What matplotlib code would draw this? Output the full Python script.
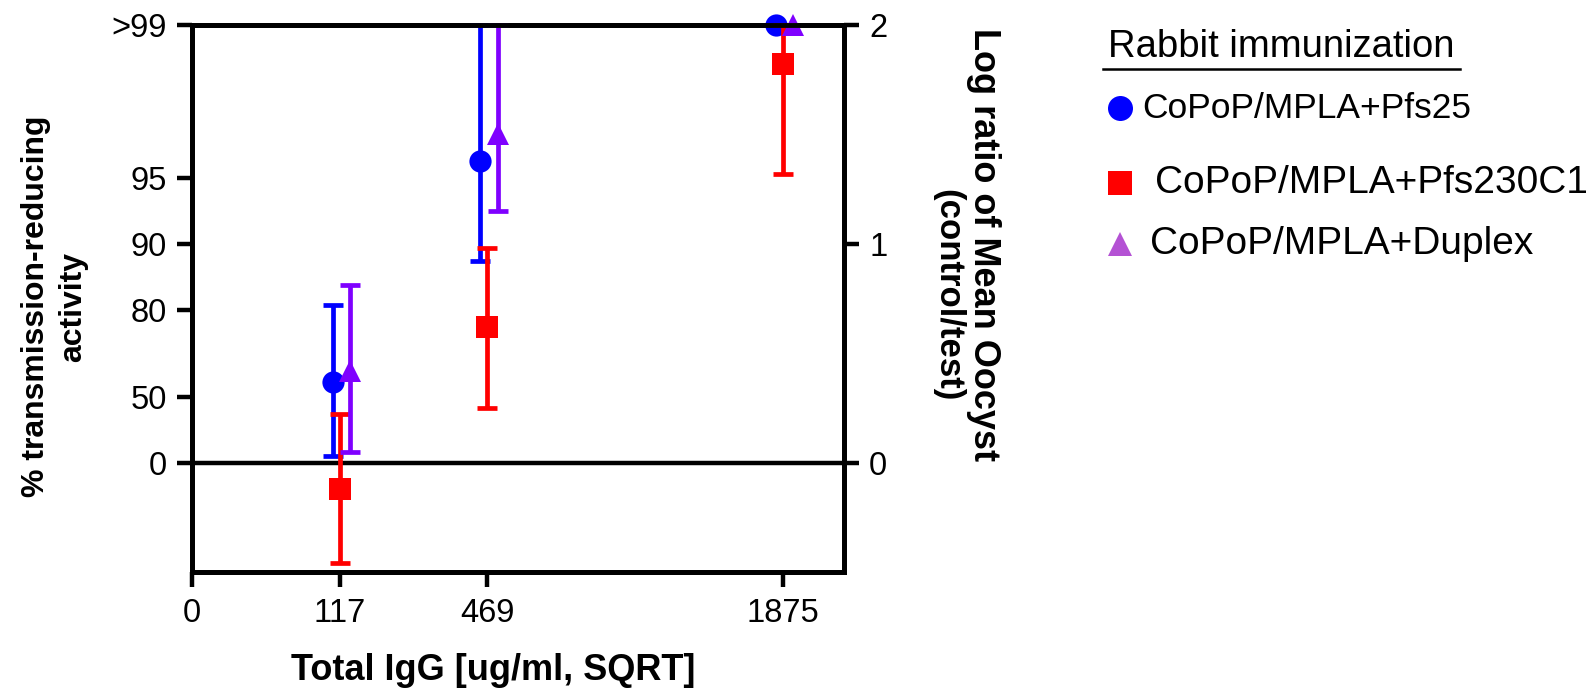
import numpy as np
import matplotlib
matplotlib.use("Agg")
import matplotlib.pyplot as plt
from matplotlib.lines import Line2D
from matplotlib.transforms import offset_copy

plt.rcParams['font.family'] = ['Liberation Sans', 'DejaVu Sans']

# ---------------- data ----------------
igg_doses = [117, 469, 1875]          # Total IgG (ug/ml), plotted on SQRT axis
x_tick_values = [0, 117, 469, 1875]
x_tick_labels = ['0', '117', '469', '1875']

series_names = ['CoPoP/MPLA+Pfs25', 'CoPoP/MPLA+Pfs230C1', 'CoPoP/MPLA+Duplex']

# log ratio of mean oocyst (control/test); None = no error bar shown
pfs25_mean = [0.37, 1.38, 2.00]
pfs25_low = [0.03, 0.92, None]
pfs25_high = [0.72, 2.00, None]

pfs230_mean = [-0.12, 0.62, 1.82]
pfs230_low = [-0.46, 0.25, 1.32]
pfs230_high = [0.22, 0.98, 2.00]

duplex_mean = [0.42, 1.50, 2.00]
duplex_low = [0.05, 1.15, None]
duplex_high = [0.81, 2.00, None]

tra_tick_percent = [0, 50, 80, 90, 95, 99]
tra_tick_labels = ['0', '50', '80', '90', '95', '>99']
log_ratio_ticks = [0, 1, 2]

# ---------------- style ----------------
colors = ['#0000FF', '#FF0000', '#7F00FF']
legend_colors = ['#0000FF', '#FF0000', '#B452D4']
markers = ['o', 's', '^']
dodge_pts = [-5.0, 0.0, 7.5]

fig = plt.figure(figsize=(15.94, 6.94), dpi=100)
ax = fig.add_axes([192/1594, 1-572/694, (844-192)/1594, (572-25)/694])

ax.set_xscale('function', functions=(lambda v: np.sqrt(np.clip(v, 0, None)), lambda v: np.square(v)))
ax.set_xlim(0, 47.8**2)
ax.set_ylim(-0.5, 2.0)

def to_arr(v):
    return np.array([np.nan if x is None else x for x in v], dtype=float)

all_series = [
    (pfs25_mean, pfs25_low, pfs25_high),
    (pfs230_mean, pfs230_low, pfs230_high),
    (duplex_mean, duplex_low, duplex_high),
]
for i, (m, lo, hi) in enumerate(all_series):
    m = to_arr(m); lo = to_arr(lo); hi = to_arr(hi)
    trans = offset_copy(ax.transData, fig=fig, x=dodge_pts[i], y=0, units='points')
    cont = ax.errorbar(igg_doses, m, yerr=[m - lo, hi - m], fmt=markers[i], color=colors[i],
                       ms=16, elinewidth=3.4, capsize=7.5, capthick=3.4,
                       clip_on=False, zorder=3 + i)
    data_line, caplines, barcols = cont.lines
    data_line.set_transform(trans)
    data_line.set_markeredgewidth(0)
    for c in caplines:
        c.set_transform(trans)
        c.set_clip_on(False)
    for b in barcols:
        b.set_transform(trans)
        b.set_clip_on(False)

ax.axhline(0, color='black', lw=3.2, zorder=2)

for s in ax.spines.values():
    s.set_linewidth(3.5)

ax.set_xticks(x_tick_values)
ax.set_xticklabels(x_tick_labels)
tra_pos = [-np.log10(1 - p / 100.0) for p in tra_tick_percent]
ax.set_yticks(tra_pos)
ax.set_yticklabels(tra_tick_labels)
ax.tick_params(axis='both', which='major', length=11, width=3.2, labelsize=23.5, pad=7)
ax.tick_params(axis='x', pad=8)
ax.minorticks_off()

ax2 = ax.twinx()
ax2.set_ylim(-0.5, 2.0)
ax2.set_yticks(log_ratio_ticks)
ax2.set_yticklabels([str(t) for t in log_ratio_ticks])
ax2.tick_params(axis='y', length=11, width=3.2, labelsize=23.5, pad=7)
for s in ax2.spines.values():
    s.set_linewidth(3.5)

ax.set_xlabel('Total IgG [ug/ml, SQRT]', fontsize=26, fontweight='bold')
ax.xaxis.label.set_va('center')
ax.xaxis.set_label_coords((493-192)/652, -(671-572)/547)
ax.set_ylabel('% transmission-reducing\nactivity', fontsize=23, fontweight='bold', linespacing=1.3)
ax.yaxis.set_label_coords(-(192-88)/652, 0.485)

fig.text(984/1594, 1-245/694, 'Log ratio of Mean Oocyst', rotation=270,
         ha='center', va='center', fontsize=26, fontweight='bold')
fig.text(948/1594, 1-295/694, '(control/test)', rotation=270,
         ha='center', va='center', fontsize=25, fontweight='bold')

# ---------------- legend ----------------
fig.text(1108/1594, 1-47/694, 'Rabbit immunization', fontsize=27.5, ha='left', va='center')
fig.add_artist(Line2D([1103/1594, 1460/1594], [1-69/694, 1-69/694], color='black', lw=1.8,
                      transform=fig.transFigure))
legend_y = [108, 183, 244]
legend_text_x = [1142, 1155, 1150]
legend_sizes = [25.5, 28, 28]
for i in range(3):
    fig.add_artist(Line2D([1120/1594], [1-legend_y[i]/694], marker=markers[i], color=legend_colors[i],
                          ms=18 if i == 0 else 17, mew=0, linestyle='none', transform=fig.transFigure))
    fig.text(legend_text_x[i]/1594, 1-legend_y[i]/694, series_names[i], fontsize=legend_sizes[i],
             ha='left', va='center')

fig.savefig('out.png', dpi=100)
